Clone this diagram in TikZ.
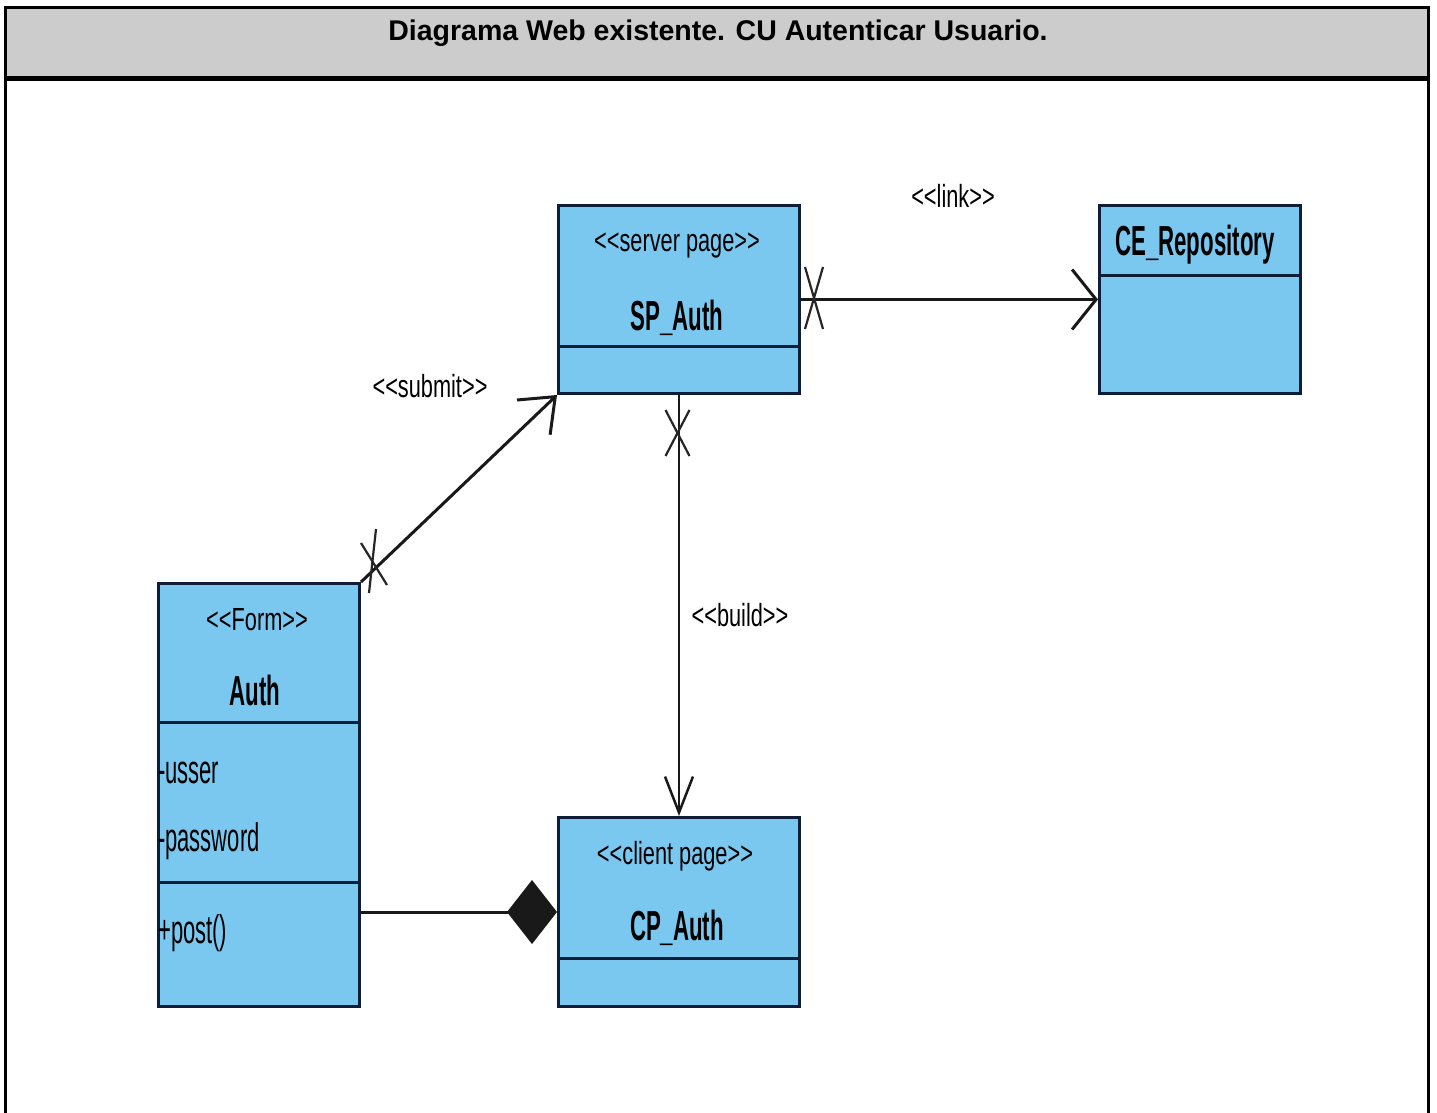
\documentclass[tikz,border=0pt]{standalone}
\usepackage{fontspec}
\setmainfont{Liberation Sans}
\newfontfamily\stereofont[FakeStretch=0.68]{Liberation Sans}
\newfontfamily\namefont[FakeStretch=0.53]{Liberation Sans}
\newfontfamily\attrfont[FakeStretch=0.55]{Liberation Sans}
\usetikzlibrary{arrows.meta,calc}

\definecolor{classfill}{RGB}{122,200,240}
\definecolor{classline}{RGB}{14,30,56}
\definecolor{headgray}{RGB}{204,204,204}

\tikzset{
  classbox/.style={draw=classline, fill=classfill, line width=3pt,
    anchor=north west, inner sep=0pt},
  divider/.style={draw=classline, line width=3pt},
  stereo/.style={font=\stereofont\fontsize{32}{34}\selectfont, inner sep=0pt},
  cname/.style={font=\namefont\bfseries\fontsize{42}{44}\selectfont, inner sep=0pt},
  attr/.style={font=\attrfont\fontsize{40}{42}\selectfont, inner sep=0pt, anchor=west},
  lbl/.style={font=\stereofont\fontsize{32}{34}\selectfont, inner sep=0pt},
  conn/.style={draw=black!90, line width=3pt},
  xmark/.style={draw=black!85, line width=2.2pt},
  frame/.style={draw=black, line width=3pt}
}

\begin{document}
\begin{tikzpicture}[x=1pt, y=-1pt]
\useasboundingbox (0,0) rectangle (1437,1113);
\fill[white] (0,0) rectangle (1437,1113);

% header band and outer frame
\fill[headgray] (5,8) rectangle (1428,79);
\node[font=\bfseries\fontsize{28.5}{30}\selectfont, inner sep=0pt] (title) at (718,33)
  {Diagrama Web existente. CU Autenticar Usuario.};
\draw[frame] (5,1113) -- (5,8) -- (1428,8) -- (1428,1113);
\draw[black, line width=5pt] (5,79) -- (1428,79);

% classes
\node[classbox, minimum width=241pt, minimum height=188pt] (sp) at (557,204) {};
\draw[divider] (557,346) -- (798,346);
\node[stereo] (sp-st) at (677,245) {<<server page>>};
\node[cname] (sp-nm) at (677,318) {SP\_Auth};

\node[classbox, minimum width=201pt, minimum height=188pt] (ce) at (1098,204) {};
\draw[divider] (1098,275) -- (1299,275);
\node[cname] (ce-nm) at (1195,245) {CE\_Repository};

\node[classbox, minimum width=201pt, minimum height=423pt] (auth) at (157,582) {};
\draw[divider] (157,722) -- (358,722);
\draw[divider] (157,882) -- (358,882);
\node[stereo] (auth-st) at (257,620) {<<Form>>};
\node[cname] (auth-nm) at (255,690) {Auth};
\node[attr] (auth-a1) at (158,773) {-usser};
\node[attr] (auth-a2) at (158,841) {-password};
\node[attr] (auth-op) at (158,933) {+post()};

\node[classbox, minimum width=241pt, minimum height=189pt] (cp) at (557,816) {};
\draw[divider] (557,958) -- (798,958);
\node[stereo] (cp-st) at (675,856) {<<client page>>};
\node[cname] (cp-nm) at (677,928) {CP\_Auth};

% connectors
\draw[conn, -{Straight Barb[length=24pt, width=60pt, line width=3pt]}]
  (sp.east) -- (ce.west);
\coordinate (lx) at (814,298);
\draw[xmark] (lx) ++(-9,-31) -- ++(18,62);
\draw[xmark] (lx) ++(9,-31) -- ++(-18,62);
\node[lbl] (link) at (953,196) {<<link>>};

\draw[conn, -{Straight Barb[length=30pt, width=48pt, line width=3pt]}]
  (auth.north east) -- (sp.south west);
\coordinate (sx) at (374,567);
\draw[xmark] (sx) ++(-13,-24) -- ++(26,42);
\draw[xmark] (sx) ++(2,-38) -- ++(-7,64);
\node[lbl] (submit) at (430,386) {<<submit>>};

\draw[conn, line width=2.2pt, -{Straight Barb[length=36pt, width=28pt, line width=2.5pt]}]
  (sp.south) -- (cp.north);
\coordinate (bx) at (677.5,433);
\draw[xmark] (bx) ++(-12,-23) -- ++(24,46);
\draw[xmark] (bx) ++(12,-23) -- ++(-24,46);
\node[lbl] (build) at (740,615) {<<build>>};

\draw[conn, -{Diamond[length=50pt, width=64pt]}]
  (auth.east |- cp.west) -- (cp.west);
\end{tikzpicture}
\end{document}
